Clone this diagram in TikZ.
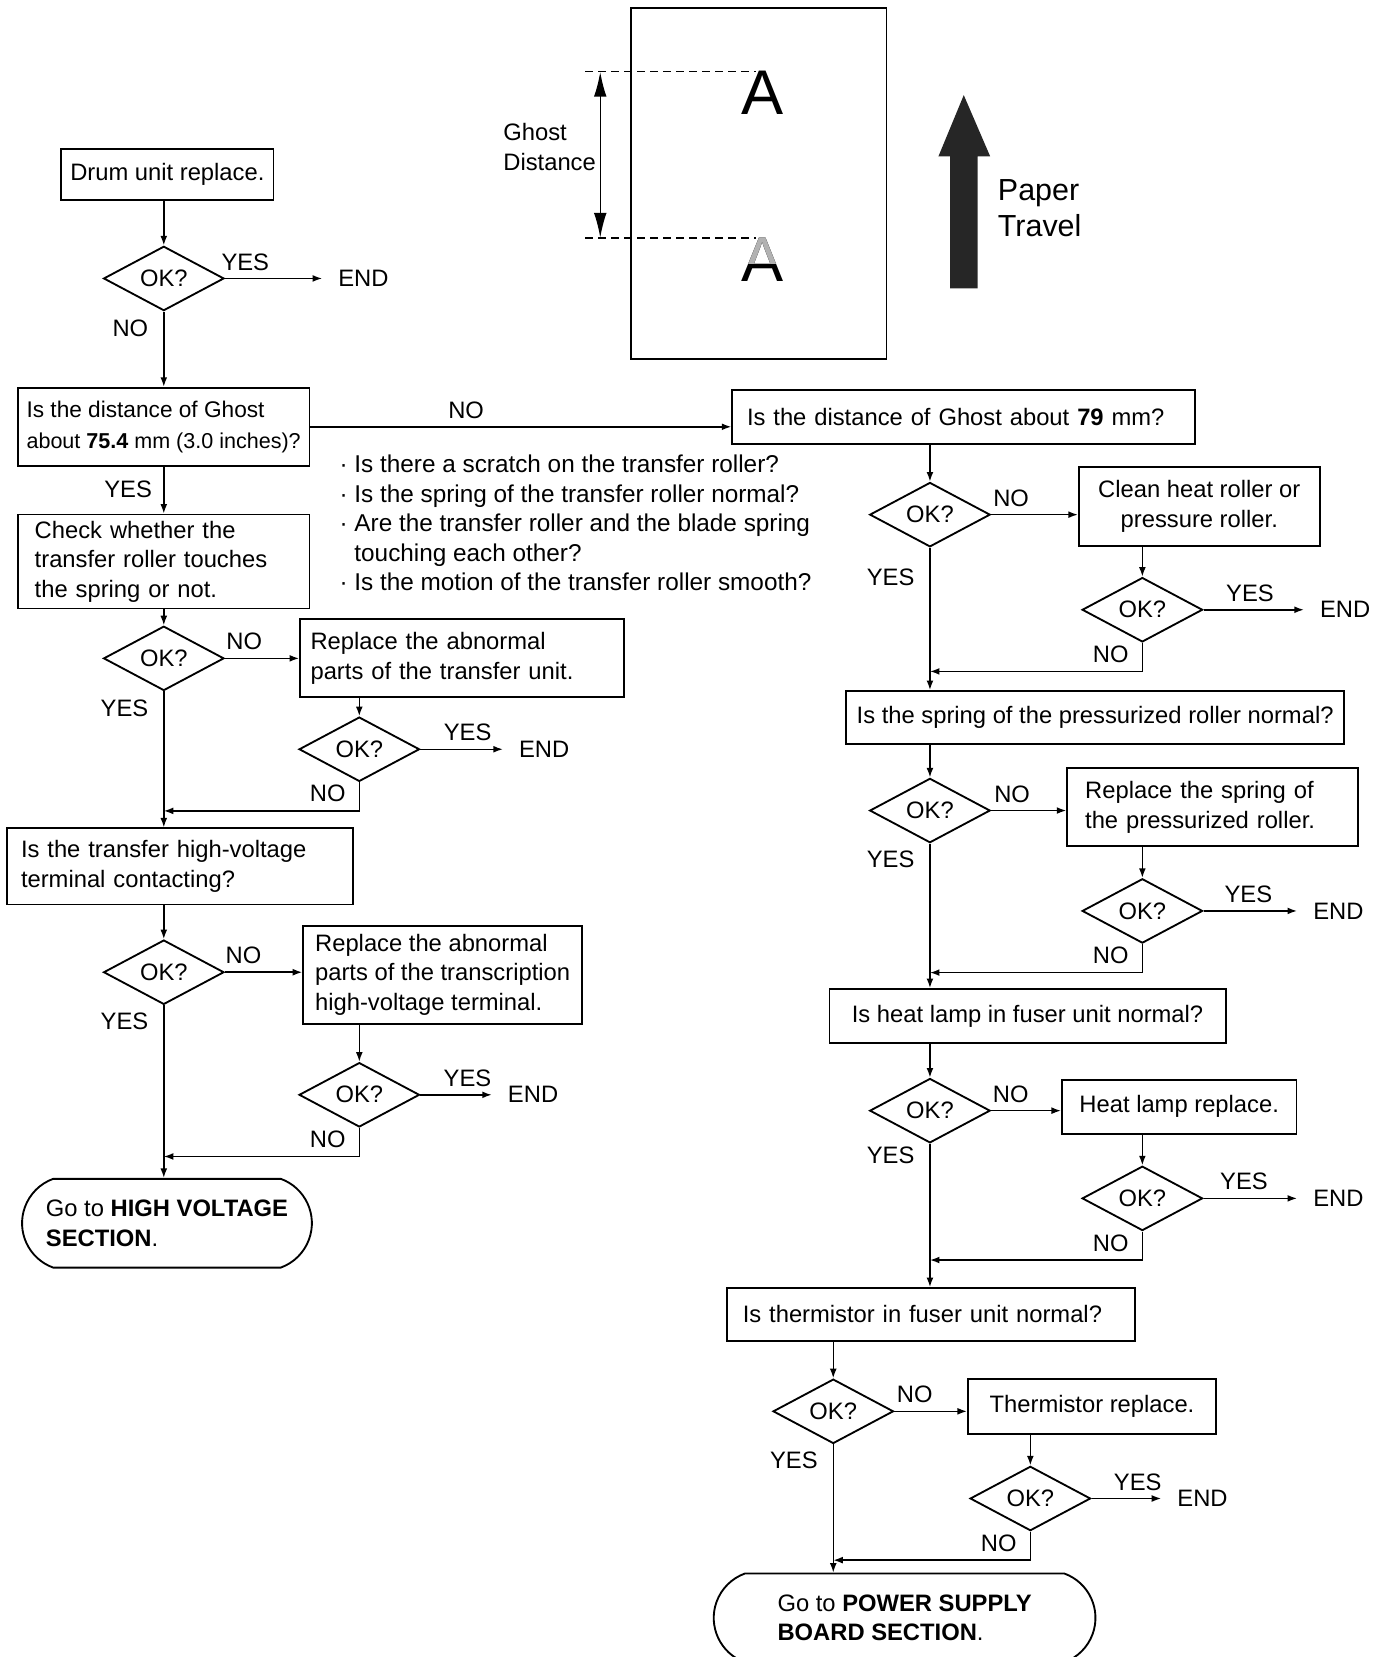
\documentclass[tikz,border=0pt]{standalone}
\usepackage{fontspec}
\setmainfont{Liberation Sans}
\usetikzlibrary{positioning,arrows.meta,shapes.geometric,shapes.misc}

\newcommand{\flowfont}{\fontsize{12.8pt}{15.9pt}\selectfont}
\newcommand{\notefont}{\fontsize{13.1pt}{15.9pt}\selectfont}
\newcommand{\ghostfont}{\fontsize{12.2pt}{16.6pt}\selectfont}
\newcommand{\inchfont}{\fontsize{11.6pt}{16.6pt}\selectfont}
\newcommand{\travelfont}{\fontsize{16.4pt}{19.6pt}\selectfont}
\newcommand{\letterfont}{\fontsize{34pt}{40pt}\selectfont}

\begin{document}
\begin{tikzpicture}[
    x=0.02cm, y=-0.02cm,
    box/.style={draw, line width=1pt, font=\flowfont, inner sep=0pt, anchor=north west},
    cbox/.style={box, align=center},
    lbox/.style={box, align=left},
    dia/.style={draw, diamond, line width=1pt, font=\flowfont, inner sep=0pt, minimum width=2.28cm, minimum height=0.98cm},
    term/.style={draw, rounded rectangle, rounded rectangle arc length=140, line width=1pt, font=\flowfont, align=left, minimum height=1.68cm},
    lbl/.style={font=\flowfont, inner sep=2pt},
    endtxt/.style={font=\flowfont, inner sep=0pt},
    flow/.style={->, line width=0.8pt},
    toend/.style={flow, shorten >=0.3cm},
    guide/.style={line width=0.8pt, dash pattern=on 4pt off 3pt},
    >={Latex[length=1.8mm,width=1.3mm]}
]
    \useasboundingbox (0,0) rectangle (1311,1568);

    % ghost sketch
    \node[draw, line width=1pt, inner sep=0pt, anchor=north west, minimum width=4.84cm, minimum height=6.64cm] (paper) at (596,7) {};
    \node[font=\letterfont, inner sep=0pt] (aTop) at (722,87.5) {A};
    \node[font=\letterfont, inner sep=0pt] (aBot) at (722,246) {A};
    \begin{scope}
        \clip (695,215) rectangle (750,249);
        \node[font=\letterfont, inner sep=0pt, text=black!30] at (aBot) {A};
    \end{scope}
    \coordinate (gTopL) at (554,67.5);
    \coordinate (gTopR) at (715,67.5);
    \coordinate (gBotL) at (554,225);
    \coordinate (gBotR) at (715,225);
    \coordinate (dimTop) at (568,68);
    \coordinate (dimBot) at (568,225);
    \draw[guide] (gTopL) -- (gTopR);
    \draw[guide] (gBotL) -- (gBotR);
    \draw[<->, line width=0.8pt, >={Latex[length=4.7mm,width=2.4mm]}] (dimTop) -- (dimBot);
    \node[font=\flowfont, align=left, anchor=west, inner sep=0pt] (ghostlbl) at (476,139) {Ghost\\Distance};
    \fill[black!85] (899,273) -- (899,148) -- (888,148) -- (912,90) -- (937,148) -- (925,148) -- (925,273) -- cycle;
    \node[font=\travelfont, align=left, anchor=west, inner sep=0pt] (travel) at (944,197) {Paper\\Travel};

    % left column
    \node[cbox, minimum width=4.02cm, minimum height=0.96cm] (drum) at (57,140) {Drum unit replace.};
    \node[dia] (d1) at (155,263.5) {OK?};
    \node[endtxt, right=2.14cm of d1] (end1) {END};
    \node[lbox, font=\ghostfont, minimum width=5.52cm, minimum height=1.48cm] (ghostq) at (16,366) {Is the distance of Ghost\\\inchfont about \textbf{75.4} mm (3.0 inches)?};
    \node[lbox, text width=4.88cm, inner xsep=0.32cm, minimum height=1.78cm] (touchq) at (16,486) {Check whether the\\transfer roller touches\\the spring or not.};
    \node[font=\notefont, align=left, anchor=west, inner sep=0pt] (notes) at (321,495) {·~Is there a scratch on the transfer roller?\\·~Is the spring of the transfer roller normal?\\·~Are the transfer roller and the blade spring\\\phantom{·~}touching each other?\\·~Is the motion of the transfer roller smooth?};
    \node[dia] (d2) at (155,623) {OK?};
    \node[lbox, text width=5.74cm, inner xsep=0.2cm, minimum height=1.48cm] (rollerfix) at (283,585) {Replace the abnormal\\parts of the transfer unit.};
    \node[dia] (d3) at (340,709) {OK?};
    \node[endtxt, right=1.86cm of d3] (end3) {END};
    \node[lbox, text width=6.02cm, inner xsep=0.26cm, minimum height=1.44cm] (hvq) at (6,783) {Is the transfer high-voltage\\terminal contacting?};
    \node[dia] (d4) at (155,920) {OK?};
    \node[lbox, minimum width=5.28cm, minimum height=1.86cm] (hvfix) at (286,875) {Replace the abnormal\\parts of the transcription\\high-voltage terminal.};
    \node[dia] (d5) at (340,1036) {OK?};
    \node[endtxt, right=1.65cm of d5] (end5) {END};
    \node[term, minimum width=5.72cm] (hvsec) at (158,1157.5) {Go to \textbf{HIGH VOLTAGE}\\\textbf{SECTION}.};

    % right column
    \node[lbox, text width=8.2cm, inner xsep=0.28cm, minimum height=1.02cm] (ghost79) at (692,368) {Is the distance of Ghost about \textbf{79} mm?};
    \node[dia] (r1) at (880,487) {OK?};
    \node[cbox, minimum width=4.56cm, minimum height=1.5cm] (clean) at (1020,441) {Clean heat roller or\\pressure roller.};
    \node[dia] (r2) at (1081,577) {OK?};
    \node[endtxt, right=2.2cm of r2] (endr2) {END};
    \node[cbox, minimum width=9.42cm, minimum height=1.0cm] (springq) at (800,653) {Is the spring of the pressurized roller normal?};
    \node[dia] (r3) at (880,767) {OK?};
    \node[lbox, text width=4.82cm, inner xsep=0.34cm, minimum height=1.48cm] (springfix) at (1009,726) {Replace the spring of\\the pressurized roller.};
    \node[dia] (r4) at (1081,862) {OK?};
    \node[endtxt, right=2.07cm of r4] (endr4) {END};
    \node[cbox, minimum width=7.5cm, minimum height=1.02cm] (lampq) at (784,935) {Is heat lamp in fuser unit normal?};
    \node[dia] (r5) at (880,1051) {OK?};
    \node[cbox, minimum width=4.44cm, minimum height=1.02cm] (lampfix) at (1004,1021) {Heat lamp replace.};
    \node[dia] (r6) at (1081,1134) {OK?};
    \node[endtxt, right=2.07cm of r6] (endr6) {END};
    \node[lbox, text width=7.12cm, inner xsep=0.3cm, minimum height=1.0cm] (thermq) at (687,1218) {Is thermistor in fuser unit normal?};
    \node[dia] (r7) at (788.5,1335.5) {OK?};
    \node[cbox, minimum width=4.7cm, minimum height=1.04cm] (thermfix) at (915,1304) {Thermistor replace.};
    \node[dia] (r8) at (975,1418) {OK?};
    \node[endtxt, right=1.62cm of r8] (endr8) {END};
    \node[term, minimum width=7.46cm] (pwrsec) at (856,1531) {Go to \textbf{POWER SUPPLY}\\\textbf{BOARD SECTION}.};

    % left connectors
    \draw[flow] (drum.south -| d1) -- (d1.north);
    \draw[toend] (d1) -- node[lbl, pos=0.18, above=2pt] {YES} (end1);
    \draw[flow] (d1.south) -- node[lbl, pos=0.22, left=6pt] {NO} (d1.south |- ghostq.north);
    \draw[flow] (ghostq.east) -- node[lbl, pos=0.37, above=2pt] {NO} (ghostq.east -| ghost79.west);
    \draw[flow] (ghostq.south -| d1) -- node[lbl, pos=0.48, left=4pt] {YES} (touchq.north -| d1);
    \draw[flow] (touchq.south -| d2) -- (d2.north);
    \draw[flow] (d2.east) -- node[lbl, pos=0.26, above=2pt] {NO} (d2.east -| rollerfix.west);
    \draw[flow] (rollerfix.south -| d3) -- (d3.north);
    \draw[toend] (d3) -- node[lbl, pos=0.48, above=2pt] {YES} (end3);
    \draw[flow] (d3.south) -- node[lbl, pos=0.4, left=5pt] {NO} ++(0,27) coordinate (back3) -- (back3 -| d2);
    \draw[flow] (d2.south) -- node[lbl, pos=0.126, left=6pt] {YES} (d2.south |- hvq.north);
    \draw[flow] (hvq.south -| d4) -- (d4.north);
    \draw[flow] (d4.east) -- node[lbl, pos=0.24, above=2pt] {NO} (d4.east -| hvfix.west);
    \draw[flow] (hvfix.south -| d5) -- (d5.north);
    \draw[toend] (d5) -- node[lbl, pos=0.54, above=2pt] {YES} (end5);
    \draw[flow] (d5.south) -- node[lbl, pos=0.4, left=5pt] {NO} ++(0,27) coordinate (back5) -- (back5 -| d4);
    \draw[flow] (d4.south) -- node[lbl, pos=0.094, left=6pt] {YES} (d4.south |- hvsec.north);

    % right connectors
    \draw[flow] (ghost79.south -| r1) -- (r1.north);
    \draw[flow] (r1.east) -- node[lbl, pos=0.23, above=2pt] {NO} (r1.east -| clean.west);
    \draw[flow] (clean.south -| r2) -- (r2.north);
    \draw[toend] (r2) -- node[lbl, pos=0.4, above=2pt] {YES} (endr2);
    \draw[flow] (r2.south) -- node[lbl, pos=0.4, left=5pt] {NO} ++(0,27) coordinate (backr2) -- (backr2 -| r1);
    \draw[flow] (r1.south) -- node[lbl, pos=0.206, left=6pt] {YES} (r1.south |- springq.north);
    \draw[flow] (springq.south -| r3) -- (r3.north);
    \draw[flow] (r3.east) -- node[lbl, pos=0.28, above=2pt] {NO} (r3.east -| springfix.west);
    \draw[flow] (springfix.south -| r4) -- (r4.north);
    \draw[toend] (r4) -- node[lbl, pos=0.41, above=2pt] {YES} (endr4);
    \draw[flow] (r4.south) -- node[lbl, pos=0.4, left=5pt] {NO} ++(0,27) coordinate (backr4) -- (backr4 -| r3);
    \draw[flow] (r3.south) -- node[lbl, pos=0.111, left=6pt] {YES} (r3.south |- lampq.north);
    \draw[flow] (lampq.south -| r5) -- (r5.north);
    \draw[flow] (r5.east) -- node[lbl, pos=0.28, above=2pt] {NO} (r5.east -| lampfix.west);
    \draw[flow] (lampfix.south -| r6) -- (r6.north);
    \draw[toend] (r6) -- node[lbl, pos=0.37, above=2pt] {YES} (endr6);
    \draw[flow] (r6.south) -- node[lbl, pos=0.4, left=5pt] {NO} ++(0,27) coordinate (backr6) -- (backr6 -| r5);
    \draw[flow] (r5.south) -- node[lbl, pos=0.082, left=6pt] {YES} (r5.south |- thermq.north);
    \draw[flow] (thermq.south -| r7) -- (r7.north);
    \draw[flow] (r7.east) -- node[lbl, pos=0.28, above=2pt] {NO} (r7.east -| thermfix.west);
    \draw[flow] (thermfix.south -| r8) -- (r8.north);
    \draw[toend] (r8) -- node[lbl, pos=0.54, above=2pt] {YES} (endr8);
    \draw[flow] (r8.south) -- node[lbl, pos=0.4, left=5pt] {NO} ++(0,27) coordinate (backr8) -- (backr8 -| r7);
    \draw[flow] (r7.south) -- node[lbl, pos=0.124, left=6pt] {YES} (r7.south |- pwrsec.north);
\end{tikzpicture}
\end{document}
